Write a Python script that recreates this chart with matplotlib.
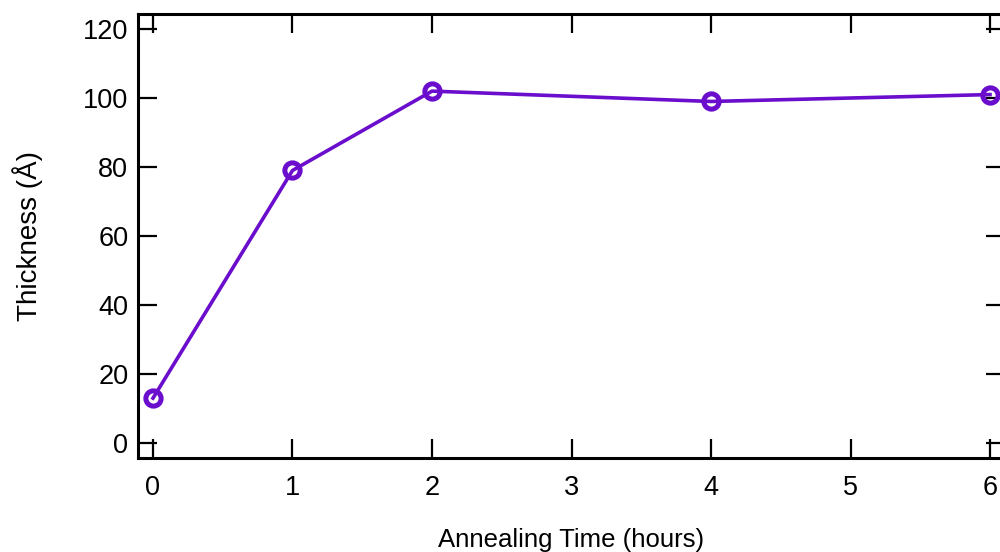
import matplotlib
matplotlib.use("Agg")
import matplotlib.pyplot as plt

hours = [0, 1, 2, 4, 6]
thickness = [13, 79, 102, 99, 101]
xticks = [0, 1, 2, 3, 4, 5, 6]
yticks = [0, 20, 40, 60, 80, 100, 120]

plt.rcParams['font.family'] = ['Liberation Sans', 'DejaVu Sans']

fig = plt.figure(figsize=(10, 5.52), dpi=100)
ax = fig.add_axes([0.138, 0.1703, 0.867, 0.8043])

color = '#6A0DCC'
ax.plot(hours, thickness, color=color, lw=2.6, marker='o', ms=11.0,
        mfc='none', mec=color, mew=3.6, clip_on=False, zorder=3)

ax.set_xlim(-0.1075, 6.1075)
ax.set_ylim(-4.35, 124.35)
ax.set_xticks(xticks)
ax.set_yticks(yticks)
for s in ax.spines.values():
    s.set_linewidth(2.2)
ax.tick_params(direction='in', length=14, width=1.6, top=True, right=True,
               labelsize=19.5)
ax.tick_params(axis='x', pad=12)
ax.tick_params(axis='y', pad=7)

ax.set_xlabel('Annealing Time (hours)', fontsize=18.5, labelpad=20)
ax.set_ylabel('Thickness (Å)', fontsize=20, labelpad=29)

fig.savefig('out.png', dpi=100)
